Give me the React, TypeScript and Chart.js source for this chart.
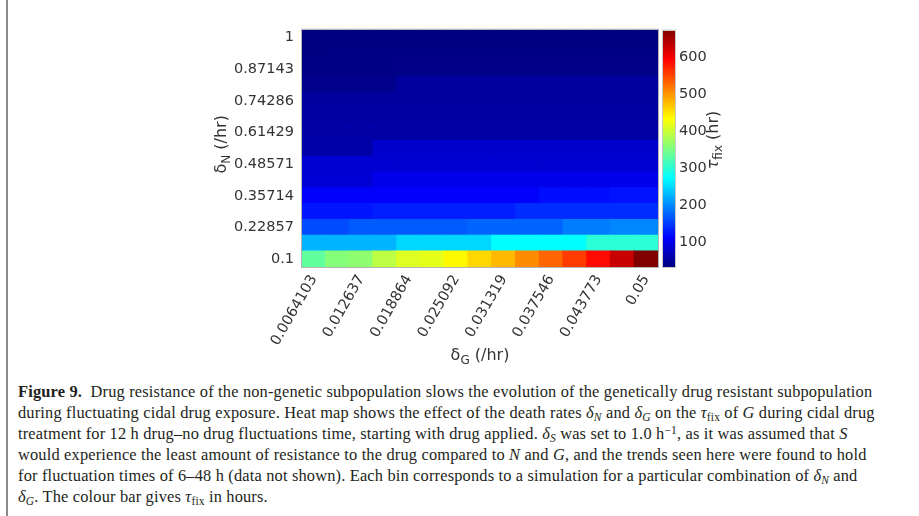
import React, { useEffect, useRef } from 'react';
import { Chart, registerables } from 'chart.js';

Chart.register(...registerables);

// δG (/hr) categories, left to right
const deltaG = ['0.0064103', '0.0095238', '0.012637', '0.015751', '0.018864', '0.021978', '0.025092', '0.028205', '0.031319', '0.034432', '0.037546', '0.04066', '0.043773', '0.046886', '0.05'];
// δN (/hr) rows, bottom to top
const deltaN = ['0.1', '0.16429', '0.22857', '0.29286', '0.35714', '0.42143', '0.48571', '0.55', '0.61429', '0.67857', '0.74286', '0.80714', '0.87143', '0.93571', '1'];

// τfix (hr), one array per δN row
const tauN0100 = [335, 358, 364, 393, 413, 419, 438, 460, 479, 507, 532, 558, 589, 630, 676];
const tauN0164 = [226, 226, 226, 226, 248, 248, 248, 248, 273, 273, 273, 273, 300, 300, 300];
const tauN0229 = [160, 160, 170, 170, 170, 170, 170, 176, 176, 176, 176, 191, 191, 197, 197];
const tauN0293 = [126, 126, 126, 131, 131, 131, 131, 131, 131, 141, 141, 141, 141, 141, 141];
const tauN0357 = [110, 110, 110, 110, 110, 110, 110, 110, 110, 110, 120, 120, 120, 124, 124];
const tauN0421 = [86, 86, 86, 100, 100, 100, 100, 100, 100, 100, 100, 100, 100, 100, 100];
const tauN0486 = [83, 83, 83, 83, 83, 83, 83, 83, 83, 83, 83, 83, 83, 83, 83];
const tauN0550 = [58, 58, 58, 80, 80, 80, 80, 80, 80, 80, 80, 80, 80, 80, 80];
const tauN0614 = [56, 56, 56, 56, 56, 56, 56, 56, 56, 56, 56, 56, 56, 56, 56];
const tauN0679 = [54, 54, 54, 54, 54, 54, 54, 54, 54, 54, 54, 54, 54, 54, 54];
const tauN0743 = [52, 52, 52, 52, 52, 52, 52, 52, 52, 52, 52, 52, 52, 52, 52];
const tauN0807 = [40, 40, 40, 40, 51, 51, 51, 51, 51, 51, 51, 51, 51, 51, 51];
const tauN0871 = [36, 37, 37, 37, 38, 38, 38, 38, 38, 38, 38, 38, 38, 38, 38];
const tauN0936 = [34, 35, 35, 35, 35, 35, 35, 35, 35, 35, 35, 35, 35, 35, 35];
const tauN1000 = [32, 33, 33, 33, 33, 33, 33, 33, 33, 33, 33, 33, 33, 33, 33];

const tauRows = [tauN0100, tauN0164, tauN0229, tauN0293, tauN0357, tauN0421, tauN0486, tauN0550, tauN0614, tauN0679, tauN0743, tauN0807, tauN0871, tauN0936, tauN1000];

const colorMin = 32;
const colorMax = 676;
const colorbarTicks = [100, 200, 300, 400, 500, 600];
const yTickIndices = [0, 2, 4, 6, 8, 10, 12, 14];

const W = 919;
const H = 375;

function clamp01(v: number) {
  return Math.max(0, Math.min(1, v));
}

function jet(t: number) {
  const u = clamp01(t);
  const r = clamp01(1.5 - Math.abs(4 * u - 3));
  const g = clamp01(1.5 - Math.abs(4 * u - 2));
  const b = clamp01(1.5 - Math.abs(4 * u - 1));
  return `rgb(${Math.round(r * 255)},${Math.round(g * 255)},${Math.round(b * 255)})`;
}

type Part = { text: string; sub?: boolean; italic?: boolean };

function drawRich(ctx: CanvasRenderingContext2D, parts: Part[], cx: number, cy: number, rotate: boolean, size: number) {
  const subSize = Math.round(size * 0.72);
  const fontFor = (p: Part) => `${p.italic ? 'italic ' : ''}${p.sub ? subSize : size}px "DejaVu Sans"`;
  ctx.save();
  ctx.translate(cx, cy);
  if (rotate) ctx.rotate(-Math.PI / 2);
  let total = 0;
  const widths = parts.map((p) => {
    ctx.font = fontFor(p);
    const w = ctx.measureText(p.text).width;
    total += w;
    return w;
  });
  let x = -total / 2;
  ctx.fillStyle = '#333';
  ctx.textBaseline = 'middle';
  ctx.textAlign = 'left';
  parts.forEach((p, i) => {
    ctx.font = fontFor(p);
    ctx.fillText(p.text, x, p.sub ? size * 0.3 : 0);
    x += widths[i];
  });
  ctx.restore();
}

const heatmapDecor = {
  id: 'heatmapDecor',
  afterDatasetsDraw(chart: any) {
    const { ctx, chartArea } = chart;
    ctx.save();
    ctx.strokeStyle = '#b4b4b4';
    ctx.lineWidth = 1;
    ctx.strokeRect(chartArea.left - 0.5, chartArea.top - 0.5, chartArea.right - chartArea.left + 1, chartArea.bottom - chartArea.top + 1);
    ctx.restore();
  },
  afterDraw(chart: any) {
    const { ctx, chartArea } = chart;
    const cb = chart.scales.y1;
    const yTop = cb.getPixelForValue(colorMax);
    const yBot = cb.getPixelForValue(colorMin);
    const x0 = chartArea.right + 5;
    const grad = ctx.createLinearGradient(0, yBot, 0, yTop);
    [0, 0.125, 0.375, 0.625, 0.875, 1].forEach((s) => grad.addColorStop(s, jet(s)));
    ctx.save();
    ctx.fillStyle = grad;
    ctx.fillRect(x0, yTop + 1, 12, yBot - yTop - 1);
    ctx.strokeStyle = '#c8c8c8';
    ctx.lineWidth = 1;
    ctx.strokeRect(x0 - 0.5, yTop + 0.5, 13, yBot - yTop);
    ctx.restore();

    drawRich(ctx, [{ text: 'δ' }, { text: 'N', sub: true }, { text: ' (/hr)' }], 222, (chartArea.top + chartArea.bottom) / 2 - 4, true, 16);
    drawRich(ctx, [{ text: 'δ' }, { text: 'G', sub: true }, { text: ' (/hr)' }], (chartArea.left + chartArea.right) / 2, 356, false, 16);
    drawRich(ctx, [{ text: 'τ', italic: true }, { text: 'fix', sub: true }, { text: ' (hr)' }], 714, 140, true, 16);
  },
};

function HeatChart() {
  const ref = useRef<HTMLCanvasElement | null>(null);
  useEffect(() => {
    if (!ref.current) return;
    const datasets = deltaN.map((dn, r) => ({
      label: `δN = ${dn}`,
      data: deltaG.map(() => [r - 0.5, r + 0.5]),
      backgroundColor: tauRows[r].map((v) => jet((v - colorMin) / (colorMax - colorMin))),
      borderWidth: 0,
      barPercentage: 1,
      categoryPercentage: 1,
      grouped: false,
      inflateAmount: 0.6,
      yAxisID: 'y',
    }));
    const tickFont = { family: '"DejaVu Sans"', size: 14.5 };
    const chart = new Chart(ref.current, {
      type: 'bar',
      data: { labels: deltaG, datasets: datasets as any },
      options: {
        animation: false,
        responsive: false,
        maintainAspectRatio: false,
        layout: { padding: { left: 202, right: 161, top: 29, bottom: 0 } },
        plugins: { legend: { display: false }, tooltip: { enabled: false } },
        scales: {
          x: {
            type: 'category',
            offset: true,
            grid: { display: false, drawTicks: false },
            border: { display: false },
            ticks: {
              autoSkip: false,
              minRotation: 60,
              maxRotation: 60,
              padding: 5,
              color: '#333',
              font: tickFont,
              callback: (_v: any, i: number) => (i % 2 === 0 ? deltaG[i] : ''),
            },
            afterFit: (s: any) => {
              s.height = H - 267;
            },
          },
          y: {
            type: 'linear',
            min: -0.5,
            max: 14.5,
            grid: { display: false, drawTicks: false },
            border: { display: false },
            afterBuildTicks: (s: any) => {
              s.ticks = yTickIndices.map((v) => ({ value: v }));
            },
            ticks: {
              padding: 8,
              color: '#333',
              font: tickFont,
              callback: (v: any) => deltaN[Math.round(Number(v))],
            },
            afterFit: (s: any) => {
              s.width = 100;
            },
          },
          y1: {
            type: 'linear',
            position: 'right',
            min: colorMin,
            max: colorMax,
            grid: { display: false, drawTicks: false },
            border: { display: false },
            afterBuildTicks: (s: any) => {
              s.ticks = colorbarTicks.map((v) => ({ value: v }));
            },
            ticks: { padding: 21, color: '#333', font: tickFont },
            afterFit: (s: any) => {
              s.width = 100;
            },
          },
        },
      } as any,
      plugins: [heatmapDecor],
    });
    return () => chart.destroy();
  }, []);
  return <canvas ref={ref} width={W} height={H} style={{ position: 'absolute', left: 0, top: 0, width: W, height: H }} />;
}

const it = (s: string) => <i>{s}</i>;
const sub = (node: React.ReactNode) => (
  <span style={{ fontSize: '0.7em', position: 'relative', top: '0.28em', lineHeight: 0 }}>{node}</span>
);
const sup = (node: React.ReactNode) => (
  <span style={{ fontSize: '0.7em', position: 'relative', top: '-0.45em', lineHeight: 0 }}>{node}</span>
);

const lineStyle: React.CSSProperties = { height: 21, lineHeight: '21px', overflow: 'visible' };

export default function App() {
  return (
    <div style={{ position: 'absolute', left: 0, top: 0, width: W, height: 516, background: '#fff', overflow: 'hidden' }}>
      <div style={{ position: 'absolute', left: 6, top: 0, width: 2, height: 516, background: '#8a8a8a' }} />
      <HeatChart />
      <div
        style={{
          position: 'absolute',
          left: 18,
          top: 381,
          fontFamily: '"Liberation Serif", serif',
          fontSize: 16.4,
          letterSpacing: '0.17px',
          color: '#231f20',
          whiteSpace: 'nowrap',
        }}
      >
        <div style={lineStyle}>
          <b>Figure 9.</b>&nbsp; Drug resistance of the non-genetic subpopulation slows the evolution of the genetically drug resistant subpopulation
        </div>
        <div style={lineStyle}>
          during fluctuating cidal drug exposure. Heat map shows the effect of the death rates {it('δ')}{sub(it('N'))} and {it('δ')}{sub(it('G'))} on the {it('τ')}{sub('fix')} of {it('G')} during cidal drug
        </div>
        <div style={lineStyle}>
          treatment for 12 h drug–no drug fluctuations time, starting with drug applied. {it('δ')}{sub(it('S'))} was set to 1.0 h{sup('−1')}, as it was assumed that {it('S')}
        </div>
        <div style={lineStyle}>
          would experience the least amount of resistance to the drug compared to {it('N')} and {it('G')}, and the trends seen here were found to hold
        </div>
        <div style={lineStyle}>
          for fluctuation times of 6–48 h (data not shown). Each bin corresponds to a simulation for a particular combination of {it('δ')}{sub(it('N'))} and
        </div>
        <div style={lineStyle}>
          {it('δ')}{sub(it('G'))}. The colour bar gives {it('τ')}{sub('fix')} in hours.
        </div>
      </div>
    </div>
  );
}
